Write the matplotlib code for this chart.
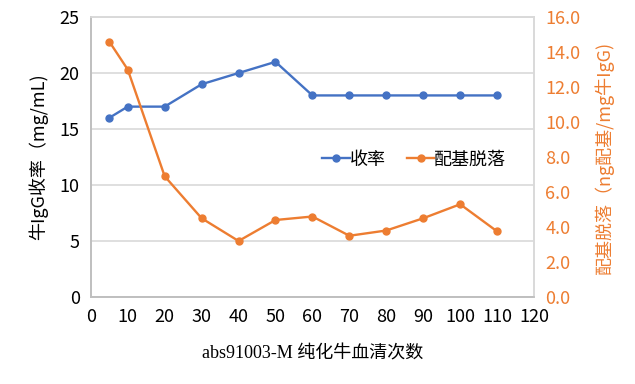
import matplotlib
matplotlib.use('Agg')
import matplotlib.pyplot as plt

plt.rcParams['font.family'] = ['Noto Sans CJK SC', 'DejaVu Sans']

# 纯化次数
runs = [5, 10, 20, 30, 40, 50, 60, 70, 80, 90, 100, 110]
# 牛IgG收率 (mg/mL)
recovery = [16, 17, 17, 19, 20, 21, 18, 18, 18, 18, 18, 18]
# 配基脱落 (ng配基/mg牛IgG)
leakage = [14.6, 13.0, 6.9, 4.5, 3.2, 4.4, 4.6, 3.5, 3.8, 4.5, 5.3, 3.75]

x_ticks = list(range(0, 121, 10))
left_ticks = [0, 5, 10, 15, 20, 25]
right_ticks = [0, 2, 4, 6, 8, 10, 12, 14, 16]

blue = '#4472C4'
orange = '#ED7D31'

fig = plt.figure(figsize=(6.35, 3.84), dpi=100)
ax1 = fig.add_axes([0.143, 0.2266, 0.698, 0.729])
ax2 = ax1.twinx()

l1, = ax1.plot(runs, recovery, color=blue, lw=1.7, marker='o', ms=5, label='收率')
l2, = ax2.plot(runs, leakage, color=orange, lw=1.7, marker='o', ms=5, label='配基脱落')

ax1.set_xlim(0, 120)
ax1.set_ylim(0, 25)
ax2.set_ylim(0, 16)
ax1.set_xticks(x_ticks)
ax1.set_yticks(left_ticks)
ax2.set_yticks(right_ticks)
ax2.set_yticklabels(['%.1f' % v for v in right_ticks])

ax1.grid(axis='y', color='#d9d9d9', lw=1.2)
ax1.set_axisbelow(True)

for ax in (ax1, ax2):
    for side in ('top', 'right'):
        ax.spines[side].set_color('#d9d9d9')
    for side in ('left', 'bottom'):
        ax.spines[side].set_color('#bfbfbf')
    for sp in ax.spines.values():
        sp.set_linewidth(1.2)
    ax.tick_params(length=0, labelsize=13, pad=8)

ax2.tick_params(axis='y', labelcolor=orange)

ax1.set_ylabel('牛IgG收率（mg/mL)', fontsize=13, labelpad=8)
ax2.set_ylabel('配基脱落（ng配基/mg牛IgG)', fontsize=13, color=orange, labelpad=10)
ax1.set_xlabel('abs91003-M 纯化牛血清次数', fontsize=13, labelpad=14,
               family=['Liberation Serif', 'Noto Sans CJK SC'])

ax1.legend(handles=[l1, l2], loc='center', bbox_to_anchor=(0.73, 0.49),
           ncol=2, frameon=False, fontsize=13, handlelength=1.5,
           handletextpad=0.0, columnspacing=1.2)

plt.savefig('out.png', dpi=100)
plt.close()
